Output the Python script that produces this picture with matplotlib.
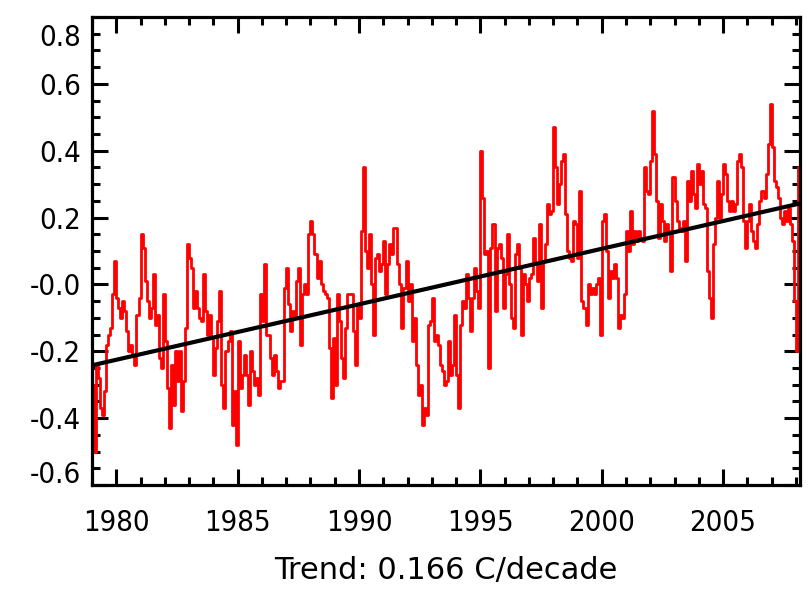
import numpy as np
import matplotlib
matplotlib.use("Agg")
import matplotlib.pyplot as plt
import matplotlib.transforms as mtransforms
from matplotlib import font_manager

# monthly anomalies (C), Jan 1979 onwards
anom_1979_1988 = [
    -0.30, -0.50, -0.24, -0.28, -0.37, -0.39, -0.32, -0.18, -0.15, -0.13, -0.03, 0.07,
    -0.04, -0.07, -0.10, -0.05, -0.08, -0.14, -0.20, -0.18, -0.21, -0.24, -0.09, -0.04,
    0.15, 0.11, 0.01, -0.05, -0.10, -0.07, 0.03, -0.12, -0.09, -0.22, -0.25, -0.03,
    -0.17, -0.31, -0.43, -0.24, -0.36, -0.20, -0.29, -0.20, -0.38, -0.29, -0.13, 0.12,
    0.08, 0.05, -0.07, -0.02, -0.07, -0.10, -0.11, 0.03, -0.08, -0.15, -0.09, -0.16,
    -0.27, -0.19, -0.11, -0.02, -0.30, -0.37, -0.20, -0.17, -0.14, -0.42, -0.32, -0.48,
    -0.17, -0.31, -0.27, -0.21, -0.27, -0.36, -0.20, -0.26, -0.30, -0.28, -0.33, -0.03,
    -0.11, 0.06, -0.15, -0.15, -0.22, -0.27, -0.21, -0.26, -0.31, -0.29, -0.29, -0.01,
    0.05, -0.06, -0.14, -0.08, -0.10, 0.01, 0.05, -0.18, -0.03, 0.00, -0.03, 0.15,
    0.19, 0.15, 0.09, 0.02, 0.07, 0.00, -0.02, -0.03, -0.04, -0.19, -0.34, -0.16,
]
anom_1989_1998 = [
    -0.30, -0.03, -0.11, -0.22, -0.28, -0.13, -0.03, -0.03, -0.03, -0.14, -0.24, -0.06,
    -0.10, 0.16, 0.35, 0.10, 0.05, 0.15, 0.00, -0.15, 0.08, 0.09, 0.04, 0.06,
    0.13, -0.03, 0.06, 0.12, 0.09, 0.17, 0.17, 0.06, 0.00, -0.13, -0.01, 0.07,
    -0.05, 0.00, -0.17, -0.10, -0.24, -0.33, -0.30, -0.42, -0.37, -0.39, -0.12, -0.11,
    -0.04, -0.17, -0.15, -0.18, -0.24, -0.26, -0.30, -0.29, -0.17, -0.27, -0.24, -0.09,
    -0.27, -0.37, -0.12, -0.05, -0.07, 0.03, -0.04, -0.14, -0.04, 0.05, -0.02, -0.07,
    0.40, 0.26, 0.09, 0.10, -0.25, 0.11, 0.18, -0.08, 0.11, 0.12, 0.08, -0.07,
    0.03, 0.15, 0.00, -0.10, -0.13, 0.09, 0.12, 0.05, -0.15, 0.03, 0.00, -0.05,
    0.02, 0.03, 0.14, 0.06, 0.01, 0.18, -0.07, 0.07, 0.12, 0.24, 0.21, 0.22,
    0.47, 0.35, 0.24, 0.30, 0.37, 0.39, 0.21, 0.10, 0.08, 0.07, 0.19, 0.18,
]
anom_1999_2008 = [
    0.08, 0.28, -0.05, -0.07, -0.12, 0.00, -0.03, -0.01, -0.03, 0.00, 0.02, -0.15,
    0.19, 0.21, 0.10, -0.04, 0.04, 0.02, 0.06, 0.02, -0.13, -0.09, -0.10, -0.03,
    0.16, 0.10, 0.22, 0.12, 0.16, 0.13, 0.16, 0.14, 0.13, 0.35, 0.28, 0.27,
    0.37, 0.52, 0.39, 0.25, 0.14, 0.24, 0.19, 0.13, 0.18, 0.16, 0.04, 0.32,
    0.25, 0.19, 0.17, 0.16, 0.19, 0.07, 0.31, 0.25, 0.34, 0.27, 0.23, 0.36,
    0.30, 0.34, 0.24, 0.23, 0.04, -0.04, -0.10, 0.12, 0.20, 0.31, 0.20, 0.27,
    0.36, 0.33, 0.25, 0.22, 0.25, 0.22, 0.24, 0.37, 0.39, 0.35, 0.19, 0.11,
    0.19, 0.24, 0.16, 0.13, 0.11, 0.18, 0.25, 0.28, 0.26, 0.33, 0.42, 0.54,
    0.41, 0.31, 0.29, 0.26, 0.20, 0.18, 0.22, 0.19, 0.23, 0.18, 0.13, -0.05,
    -0.20, 0.35,
]
start_year = 1979
trend_per_decade = 0.166
trend_at_start = -0.242

x_ticks = [1980, 1985, 1990, 1995, 2000, 2005]
y_ticks = [-0.6, -0.4, -0.2, 0.0, 0.2, 0.4, 0.6, 0.8]
y_labels = ["-0.6", "-0.4", "-0.2", "-0.0", "0.2", "0.4", "0.6", "0.8"]
x_label = "Trend: 0.166 C/decade"

anom = np.array(anom_1979_1988 + anom_1989_1998 + anom_1999_2008)
t = start_year + (np.arange(len(anom)) + 0.5) / 12.0

# narrow font like the IDL one, if there is one
fonts = font_manager.fontManager.ttflist
if any(f.name == "Liberation Sans Narrow" for f in fonts):
    tick_font = dict(family="Liberation Sans Narrow", size=22)
elif any(f.name == "DejaVu Sans" and f.stretch == "condensed" for f in fonts):
    tick_font = dict(family="DejaVu Sans", stretch="condensed", size=21)
else:
    tick_font = dict(family="DejaVu Sans", size=19)

fig = plt.figure(figsize=(8.08, 5.92), dpi=100)
ax = fig.add_axes([92 / 808, 1 - 485 / 592, 708 / 808, 468 / 592])

ax.plot(t, anom, color="#ff0000", lw=2.0, drawstyle="steps-mid")

x_end = start_year + 29.17
tt = np.array([start_year, x_end])
ax.plot(tt, trend_at_start + trend_per_decade * (tt - start_year) / 10.0,
        color="black", lw=3.0, solid_capstyle="butt")

ax.set_xlim(start_year, x_end)
ax.set_ylim(-0.6, 0.8)
ax.set_xticks(x_ticks)
ax.set_xticks(np.arange(1979, 2009), minor=True)
ax.set_yticks(y_ticks)
ax.set_yticklabels(y_labels)
ax.set_yticks(np.arange(-0.6, 0.801, 0.05), minor=True)

for s in ax.spines.values():
    s.set_linewidth(2.3)
ax.tick_params(which="both", direction="in", top=True, right=True, width=2.2)
ax.tick_params(which="major", length=11.5)
ax.tick_params(which="minor", length=5.8)
ax.tick_params(axis="x", pad=17)
ax.tick_params(axis="y", pad=8)
for lab in ax.get_xticklabels() + ax.get_yticklabels():
    lab.set_fontproperties(font_manager.FontProperties(**tick_font))
ax.set_xlabel(x_label, fontsize=22, family="DejaVu Sans", labelpad=14)

# IDL pulls the end labels inside the axis range
labs = ax.get_yticklabels()
off_up = mtransforms.ScaledTranslation(0, 13 / 100, fig.dpi_scale_trans)
off_dn = mtransforms.ScaledTranslation(0, -18 / 100, fig.dpi_scale_trans)
labs[0].set_transform(labs[0].get_transform() + off_up)
labs[-1].set_transform(labs[-1].get_transform() + off_dn)

fig.savefig("out.png", dpi=100)
